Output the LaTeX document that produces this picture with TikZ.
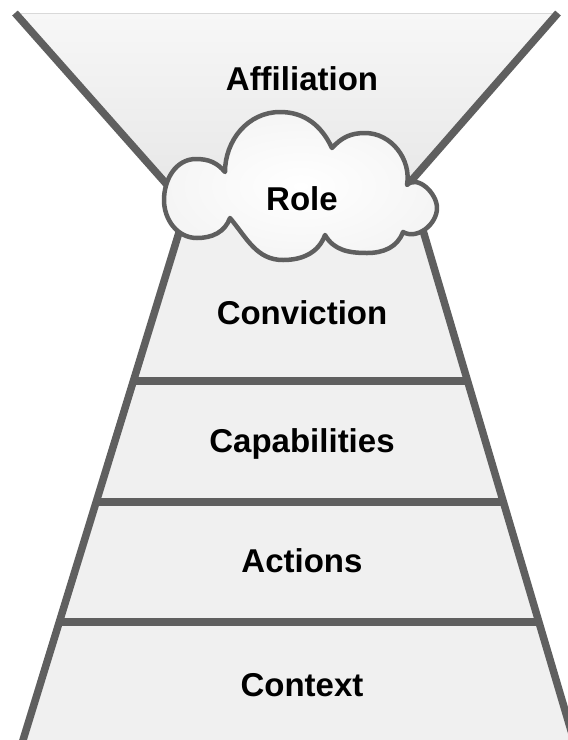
\documentclass[tikz,border=0pt]{standalone}
\usepackage{fontspec}
\setmainfont{Liberation Sans}
\definecolor{linegray}{HTML}{5F5F5F}
\definecolor{bandfill}{HTML}{E6E6E6}
\definecolor{bandedge}{HTML}{F0F0F0}
\definecolor{funneltop}{HTML}{F7F7F7}
\definecolor{topline}{HTML}{D9D9D9}
\definecolor{cloudrim}{HTML}{F5F5F5}
\begin{document}
\begin{tikzpicture}[x=1pt,y=1pt,
  edge/.style={draw=linegray, line width=7.5pt},
  cloudline/.style={draw=linegray, line width=4.5pt, line join=round},
  tier/.style={font=\fontsize{33}{40}\selectfont\bfseries, text=black,
               inner sep=0pt, anchor=base},
]
\useasboundingbox (0,0) rectangle (568,-740);
\begin{scope}
\clip (0,0) rectangle (568,-740);

% upper funnel
\coordinate (ftl) at (15,-13);
\coordinate (ftr) at (558,-13);
\coordinate (fbl) at (185,-205);
\coordinate (fbr) at (390,-205);
\shade[top color=funneltop, middle color=bandfill, bottom color=bandfill]
  (ftl) -- (ftr) -- (fbr) -- (fbl) -- cycle;
\draw[topline, line width=1pt] (ftl) -- (ftr);
\draw[edge] (ftl) -- (fbl);
\draw[edge] (ftr) -- (fbr);

% lower trapezoid and its tiers
\coordinate (l0) at (189,-200);   \coordinate (r0) at (414,-200);
\coordinate (l1) at (133.4,-381); \coordinate (r1) at (467.6,-381);
\coordinate (l2) at (96.2,-502);  \coordinate (r2) at (503.4,-502);
\coordinate (l3) at (59.3,-622);  \coordinate (r3) at (538.9,-622);
\coordinate (l4) at (21.5,-745);  \coordinate (r4) at (575.3,-745);
\shade[left color=bandedge, middle color=bandfill, right color=bandedge]
  (l0) -- (r0) -- (r4) -- (l4) -- cycle;
\draw[edge] (l1) -- (r1);
\draw[edge] (l2) -- (r2);
\draw[edge] (l3) -- (r3);
\draw[edge] (l0) -- (l4);
\draw[edge] (r0) -- (r4);

% cloud
\shadedraw[cloudline, inner color=white, outer color=cloudrim]
  (164,-200)
  to[out=90,in=180] (196,-159)
  to[out=0,in=130] (225,-172)
  to[out=90,in=180] (280,-112)
  to[out=0,in=115] (332,-148)
  to[out=48,in=180] (365,-133)
  to[out=0,in=80] (407,-185)
  to[out=45,in=90] (437,-208)
  to[out=-90,in=-30] (403,-232)
  to[out=-110,in=0] (367,-253)
  to[out=180,in=-60] (325,-235)
  to[out=-110,in=0] (283,-260)
  to[out=180,in=-50] (230,-218)
  to[out=-110,in=0] (197,-238)
  to[out=180,in=-90] (164,-200) -- cycle;
\end{scope}

% labels
\node[tier] (affiliation)  at (302,-90)  {Affiliation};
\node[tier] (role)         at (302,-210) {Role};
\node[tier] (conviction)   at (302,-324) {Conviction};
\node[tier] (capabilities) at (302,-452) {Capabilities};
\node[tier] (actions)      at (302,-572) {Actions};
\node[tier] (context)      at (302,-696) {Context};
\end{tikzpicture}
\end{document}
